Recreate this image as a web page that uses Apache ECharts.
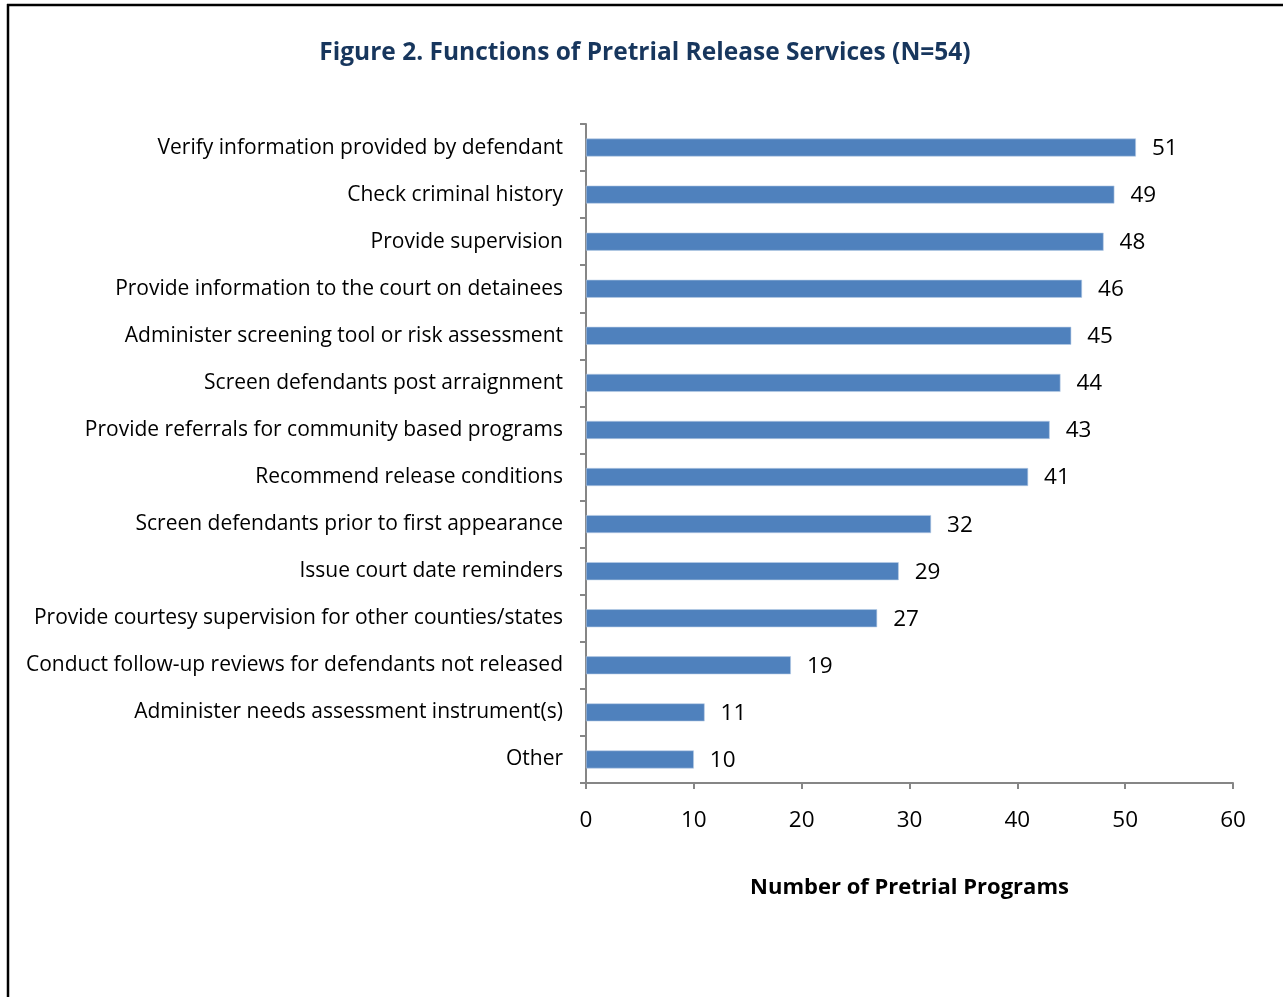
<!DOCTYPE html>
<html>
<head>
<meta charset="utf-8">
<script src="https://cdn.jsdelivr.net/npm/echarts@6/dist/echarts.min.js"></script>
<style>
  html, body { margin: 0; padding: 0; background: #fff; }
  #chart { width: 1283px; height: 997px; }
</style>
</head>
<body>
<div id="chart"></div>
<script>
// Functions reported by pretrial release programs (N=54)
const categories = [
  'Verify information provided by defendant',
  'Check criminal history',
  'Provide supervision',
  'Provide information to the court on detainees',
  'Administer screening tool or risk assessment',
  'Screen defendants post arraignment',
  'Provide referrals for community based programs',
  'Recommend release conditions',
  'Screen defendants prior to first appearance',
  'Issue court date reminders',
  'Provide courtesy supervision for other counties/states',
  'Conduct follow-up reviews for defendants not released',
  'Administer needs assessment instrument(s)',
  'Other'
];
const programCounts = [51, 49, 48, 46, 45, 44, 43, 41, 32, 29, 27, 19, 11, 10];

const FONT = '"Open Sans", sans-serif';
const chart = echarts.init(document.getElementById('chart'));

chart.setOption({
  backgroundColor: '#ffffff',
  animation: false,
  title: {
    text: 'Figure 2. Functions of Pretrial Release Services (N=54)',
    left: 640,
    top: 36,
    textAlign: 'center',
    textStyle: { fontFamily: FONT, fontSize: 24.5, fontWeight: 'bold', color: '#17365D' }
  },
  graphic: [
    // frame around the figure (left and top edges inside the page)
    { type: 'line', shape: { x1: 8, y1: 4, x2: 8, y2: 1000 }, style: { stroke: '#000', lineWidth: 2.5 } },
    { type: 'line', shape: { x1: 7, y1: 5, x2: 1290, y2: 5 }, style: { stroke: '#000', lineWidth: 2.5 } }
  ],
  grid: { left: 586, right: 50, top: 124, bottom: 214 },
  xAxis: {
    type: 'value',
    min: 0, max: 60, interval: 10,
    name: 'Number of Pretrial Programs',
    nameLocation: 'middle',
    nameGap: 94,
    nameTextStyle: { fontFamily: FONT, fontSize: 22, fontWeight: 'bold', color: '#000' },
    axisLine: { show: true, lineStyle: { color: '#868686', width: 2 } },
    axisTick: { show: true, length: 6, lineStyle: { color: '#868686', width: 2 } },
    axisLabel: { fontFamily: FONT, fontSize: 22.5, color: '#000', margin: 26 },
    splitLine: { show: false }
  },
  yAxis: {
    type: 'category',
    data: categories,
    inverse: true,
    axisLine: { show: true, lineStyle: { color: '#868686', width: 2 } },
    axisTick: { show: true, length: 6, lineStyle: { color: '#868686', width: 2 } },
    axisLabel: { fontFamily: FONT, fontSize: 21, color: '#000', margin: 23 }
  },
  series: [{
    type: 'bar',
    data: programCounts,
    barWidth: 18,
    itemStyle: { color: '#4F81BD', borderColor: '#B9CDE5', borderWidth: 0.6 },
    label: {
      show: true,
      position: 'right',
      distance: 16,
      offset: [0, 1],
      fontFamily: FONT,
      fontSize: 22.5,
      color: '#000'
    }
  }]
});
</script>
</body>
</html>
